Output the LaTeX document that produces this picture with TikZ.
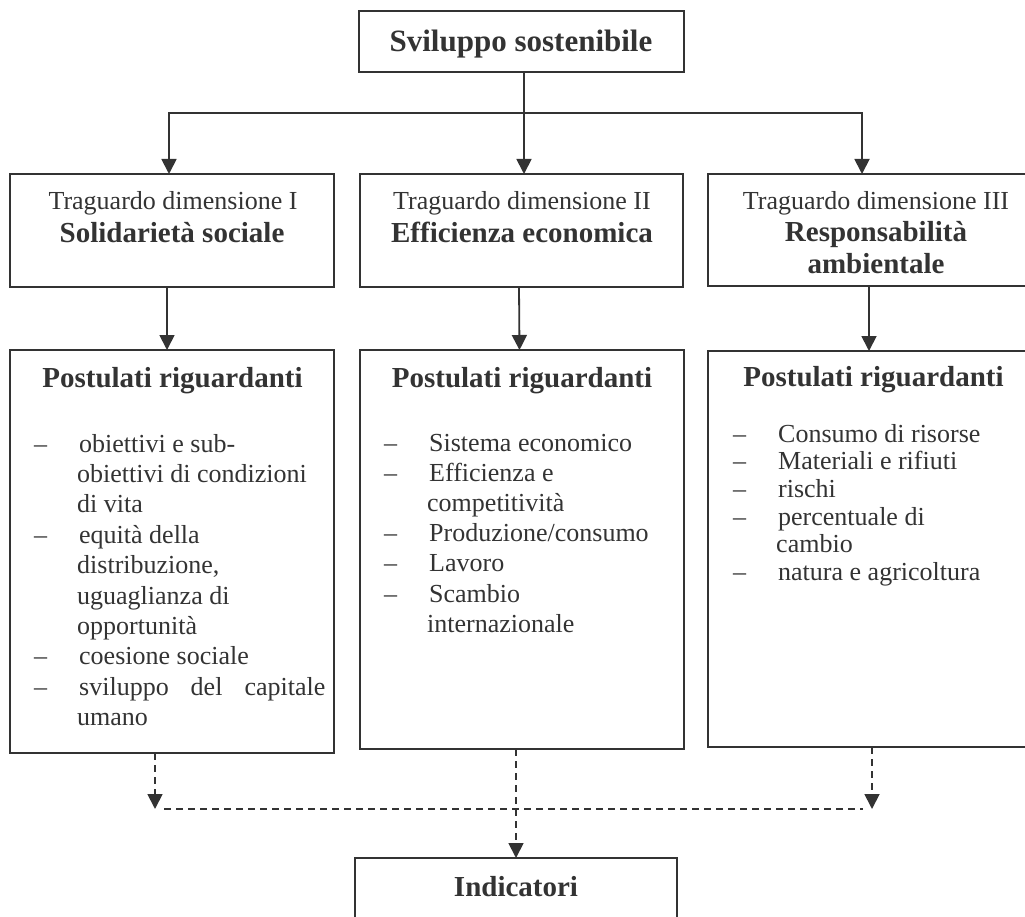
\documentclass[tikz,border=0pt]{standalone}
\usepackage{fontspec}
\setmainfont{Liberation Serif}
\usetikzlibrary{arrows.meta}
\definecolor{ink}{HTML}{333333}
\begin{document}
\begin{tikzpicture}[x=1pt,y=-1pt,
  box/.style={draw=ink,line width=1.8pt,rectangle,inner sep=0pt,outer sep=0pt,anchor=north west},
  conn/.style={draw=ink,line width=1.8pt},
  arr/.style={conn,-{Triangle[length=15pt,width=15pt]}},
  dline/.style={conn,dash pattern=on 7pt off 5pt},
  darr/.style={arr,dash pattern=on 7pt off 5pt},
  reg/.style={text=ink,font=\fontsize{26}{30}\selectfont,inner sep=0pt,anchor=base},
  bld/.style={text=ink,font=\fontsize{29}{31}\selectfont\bfseries,inner sep=0pt,anchor=base},
  itemlist/.style={text=ink,inner sep=0pt,align=left,anchor=base west},
]
\useasboundingbox (0,0) rectangle (1025,917);
\clip (0,0) rectangle (1025,917);
\newcommand{\dashitem}{\llap{–\hspace{30pt}}\hspace{2pt}}

% boxes
\node[box,minimum width=325pt,minimum height=61pt] (top) at (359,11) {};
\node[box,minimum width=324pt,minimum height=113pt] (t1) at (10,174) {};
\node[box,minimum width=323pt,minimum height=113pt] (t2) at (360,174) {};
\node[box,minimum width=336pt,minimum height=112pt] (t3) at (708,174) {};
\node[box,minimum width=324pt,minimum height=403pt] (p1) at (10,350) {};
\node[box,minimum width=324pt,minimum height=399pt] (p2) at (360,350) {};
\node[box,minimum width=336pt,minimum height=396pt] (p3) at (708,351) {};
\node[box,minimum width=322pt,minimum height=100pt] (ind) at (355,858) {};

% titles
\node[bld,font=\fontsize{31}{33}\selectfont\bfseries] (topl) at (521,52) {Sviluppo sostenibile};
\node[reg] (t1a) at (173,210) {Traguardo dimensione I};
\node[bld] (t1b) at (172,243) {Solidarietà sociale};
\node[reg] (t2a) at (522,210) {Traguardo dimensione II};
\node[bld] (t2b) at (522,243) {Efficienza economica};
\node[reg] (t3a) at (876,210) {Traguardo dimensione III};
\node[bld] (t3b) at (876,242) {Responsabilità};
\node[bld] (t3c) at (876,273) {ambientale};
\node[bld] (p1t) at (172.5,387) {Postulati riguardanti};
\node[bld] (p2t) at (522,387) {Postulati riguardanti};
\node[bld] (p3t) at (873.5,386) {Postulati riguardanti};
\node[bld] (indl) at (516,896) {Indicatori};

% item lists (each node is placed by the baseline of its last line)
\node[itemlist,font=\fontsize{26}{30.4}\selectfont] (l1) at (77,725.6) {%
\dashitem obiettivi e sub-\\
obiettivi di condizioni\\
di vita\\
\dashitem equità della\\
distribuzione,\\
uguaglianza di\\
opportunità\\
\dashitem coesione sociale\\
\dashitem sviluppo\hspace{22pt}del\hspace{22pt}capitale\\
umano};
\node[itemlist,font=\fontsize{26}{30.2}\selectfont] (l2) at (427,632.2) {%
\dashitem Sistema economico\\
\dashitem Efficienza e\\
competitività\\
\dashitem Produzione/consumo\\
\dashitem Lavoro\\
\dashitem Scambio\\
internazionale};
\node[itemlist,font=\fontsize{26}{27.7}\selectfont] (l3) at (776,580.5) {%
\dashitem Consumo di risorse\\
\dashitem Materiali e rifiuti\\
\dashitem rischi\\
\dashitem percentuale di\\
cambio\\
\dashitem natura e agricoltura};

% solid connectors
\coordinate (j) at (524,113);
\draw[conn] (top.south -| j) -- (j);
\draw[arr] (j) -- (t2.north -| j);
\draw[arr] (j) -| ([xshift=-3pt]t1.north);
\draw[arr] (j) -| ([xshift=-14pt]t3.north);
\draw[arr] ([xshift=-5pt]t1.south) -- ([xshift=-5pt]p1.north);
\draw[arr] ([xshift=-2.5pt]t2.south) -- ([xshift=-2.5pt]p2.north);
\draw[arr] ([xshift=-7pt]t3.south) -- ([xshift=-7pt]p3.north);

% dashed connectors
\coordinate (dl) at (155,809);
\coordinate (dr) at (872,809);
\draw[dline] ([xshift=9pt]dl) -- ([xshift=-9pt]dr);
\draw[darr] (p1.south -| dl) -- (dl);
\draw[darr] (p3.south -| dr) -- (dr);
\draw[darr] (p2.south -| ind.north) -- (ind.north);
\end{tikzpicture}
\end{document}
